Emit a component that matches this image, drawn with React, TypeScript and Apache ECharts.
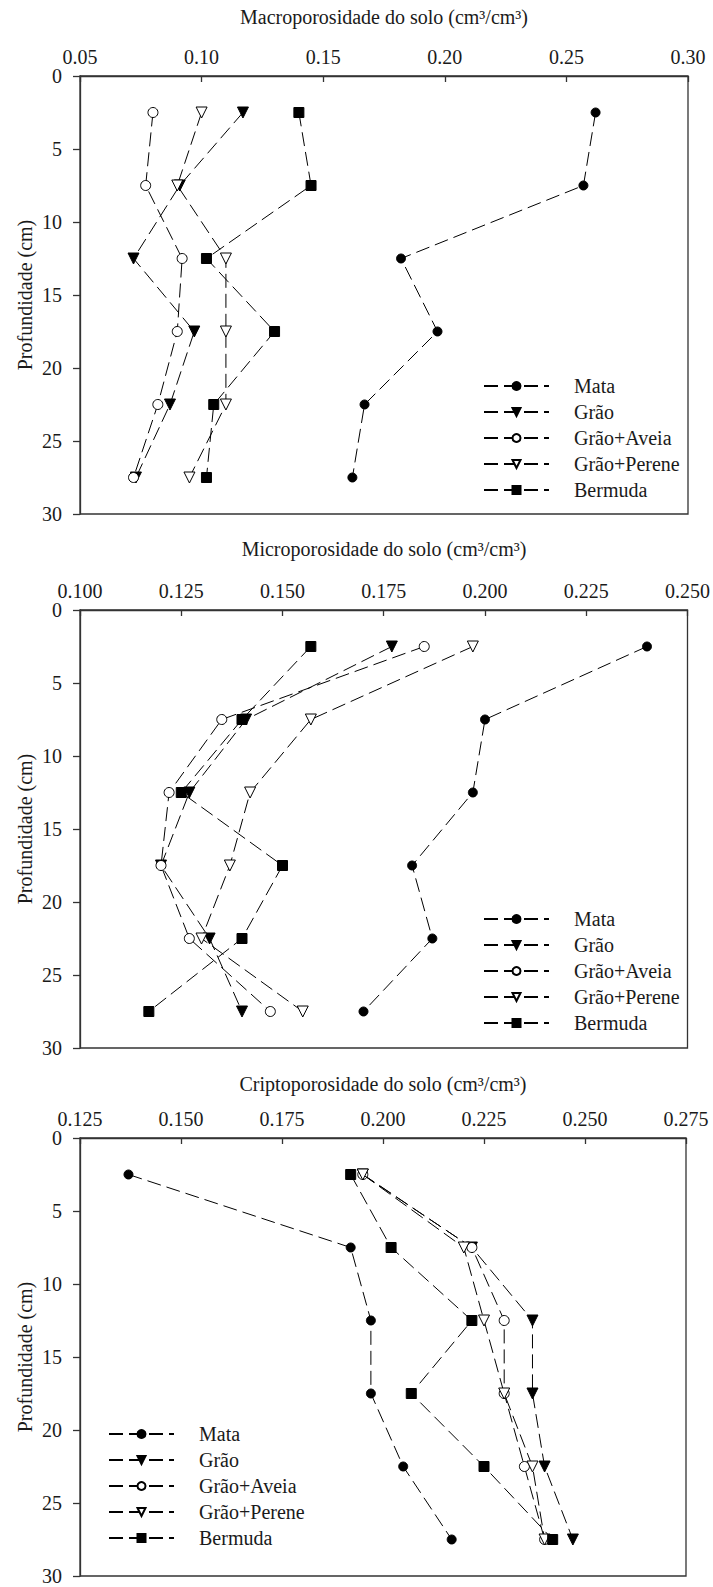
import React, { useEffect, useRef } from "react";
import * as echarts from "echarts";

const depths = [2.5, 7.5, 12.5, 17.5, 22.5, 27.5];
const seriesNames = ["Mata", "Grão", "Grão+Aveia", "Grão+Perene", "Bermuda"];

// Macroporosidade
const macroMata = [0.262, 0.257, 0.182, 0.197, 0.167, 0.162];
const macroGrao = [0.117, 0.091, 0.072, 0.097, 0.087, 0.073];
const macroAveia = [0.08, 0.077, 0.092, 0.09, 0.082, 0.072];
const macroPerene = [0.1, 0.09, 0.11, 0.11, 0.11, 0.095];
const macroBermuda = [0.14, 0.145, 0.102, 0.13, 0.105, 0.102];

// Microporosidade
const microMata = [0.24, 0.2, 0.197, 0.182, 0.187, 0.17];
const microGrao = [0.177, 0.141, 0.127, 0.12, 0.132, 0.14];
const microAveia = [0.185, 0.135, 0.122, 0.12, 0.127, 0.147];
const microPerene = [0.197, 0.157, 0.142, 0.137, 0.13, 0.155];
const microBermuda = [0.157, 0.14, 0.125, 0.15, 0.14, 0.117];

// Criptoporosidade
const criptoMata = [0.137, 0.192, 0.197, 0.197, 0.205, 0.217];
const criptoGrao = [0.195, 0.222, 0.237, 0.237, 0.24, 0.247];
const criptoAveia = [0.195, 0.222, 0.23, 0.23, 0.235, 0.24];
const criptoPerene = [0.195, 0.22, 0.225, 0.23, 0.237, 0.24];
const criptoBermuda = [0.192, 0.202, 0.222, 0.207, 0.225, 0.242];

const panelTitles = [
  "Macroporosidade do solo (cm³/cm³)",
  "Microporosidade do solo (cm³/cm³)",
  "Criptoporosidade do solo (cm³/cm³)",
];
const xMins = [0.05, 0.1, 0.125];
const xMaxs = [0.3, 0.25, 0.275];
const xIntervals = [0.05, 0.025, 0.025];
const xDecimals = [2, 3, 3];
const yAxisName = "Profundidade (cm)";

const panelData = [
  [macroMata, macroGrao, macroAveia, macroPerene, macroBermuda],
  [microMata, microGrao, microAveia, microPerene, microBermuda],
  [criptoMata, criptoGrao, criptoAveia, criptoPerene, criptoBermuda],
];

const FONT = "Liberation Serif";
const TEXT = "#1a1a1a";
const AXIS = "#333";

const grids = [
  { left: 80, top: 76, width: 608, height: 438 },
  { left: 80, top: 610, width: 608, height: 438 },
  { left: 80, top: 1138, width: 606, height: 438 },
];
const titleY = [17, 549, 1084];
const legendPos = [
  { left: 483, top: 376 },
  { left: 483, top: 909 },
  { left: 108, top: 1424 },
];

const symbolStyles = [
  { symbol: "circle", symbolSize: 9, symbolRotate: 0, fill: "#000" },
  { symbol: "triangle", symbolSize: 11, symbolRotate: 180, fill: "#000" },
  { symbol: "circle", symbolSize: 10, symbolRotate: 0, fill: "#fff" },
  { symbol: "triangle", symbolSize: 11, symbolRotate: 180, fill: "#fff" },
  { symbol: "rect", symbolSize: 10, symbolRotate: 0, fill: "#000" },
];

export default function App() {
  const ref = useRef<HTMLDivElement>(null);
  useEffect(() => {
    if (!ref.current) return;
    const chart = echarts.init(ref.current, undefined, { renderer: "svg" });

    const series: any[] = [];
    panelData.forEach((arrs, p) => {
      arrs.forEach((vals, s) => {
        const st = symbolStyles[s];
        series.push({
          type: "line",
          name: seriesNames[s],
          xAxisIndex: p,
          yAxisIndex: p,
          data: vals.map((v, i) => [v, depths[i]]),
          symbol: st.symbol,
          symbolSize: st.symbolSize,
          symbolRotate: st.symbolRotate,
          showAllSymbol: true,
          lineStyle: { color: "#000", width: 1, type: [14, 6] },
          itemStyle: { color: st.fill, borderColor: "#000", borderWidth: 1, opacity: 1 },
          emphasis: { disabled: true },
          z: 2 + s,
        });
      });
    });

    const graphic: any[] = [];
    grids.forEach((g, p) => {
      graphic.push({
        type: "text",
        x: g.left + g.width / 2,
        y: titleY[p],
        style: {
          text: panelTitles[p],
          fontFamily: FONT,
          fontSize: 20,
          fill: TEXT,
          align: "center",
          verticalAlign: "middle",
        },
      });
      graphic.push({
        type: "text",
        x: 25,
        y: g.top + g.height / 2,
        rotation: Math.PI / 2,
        style: {
          text: yAxisName,
          fontFamily: FONT,
          fontSize: 20,
          fill: TEXT,
          align: "center",
          verticalAlign: "middle",
        },
      });
    });

    chart.setOption({
      animation: false,
      backgroundColor: "#fff",
      textStyle: { fontFamily: FONT },
      grid: grids.map((g) => ({
        ...g,
        show: true,
        borderColor: AXIS,
        borderWidth: 1.3,
        backgroundColor: "transparent",
      })),
      xAxis: grids.map((_, p) => ({
        type: "value",
        gridIndex: p,
        position: "top",
        min: xMins[p],
        max: xMaxs[p],
        interval: xIntervals[p],
        axisLine: { show: true, lineStyle: { color: AXIS, width: 1.3 } },
        axisTick: { show: true, inside: true, length: 6, lineStyle: { color: AXIS, width: 1.3 } },
        splitLine: { show: false },
        axisLabel: {
          show: true,
          margin: 11,
          color: TEXT,
          fontFamily: FONT,
          fontSize: 20,
          lineHeight: 16,
          formatter: (v: number) => v.toFixed(xDecimals[p]),
        },
      })),
      yAxis: grids.map((_, p) => ({
        type: "value",
        gridIndex: p,
        inverse: true,
        min: 0,
        max: 30,
        interval: 5,
        axisLine: { show: true, lineStyle: { color: AXIS, width: 1.3 } },
        axisTick: { show: true, inside: false, length: 7, lineStyle: { color: AXIS, width: 1.3 } },
        splitLine: { show: false },
        axisLabel: {
          show: true,
          margin: 18,
          color: TEXT,
          fontFamily: FONT,
          fontSize: 20,
          lineHeight: 16,
        },
      })),
      legend: legendPos.map((lp) => ({
        orient: "vertical",
        left: lp.left,
        top: lp.top,
        padding: 0,
        data: seriesNames,
        itemWidth: 65,
        itemHeight: 10,
        itemGap: 6,
        selectedMode: false,
        textStyle: {
          color: TEXT,
          fontFamily: FONT,
          fontSize: 20,
          lineHeight: 20,
          padding: [0, 0, 0, 20],
        },
      })),
      graphic,
      series,
    });

    return () => chart.dispose();
  }, []);

  return (
    <div
      ref={ref}
      style={{ position: "absolute", left: 0, top: 0, width: 713, height: 1587 }}
    />
  );
}
